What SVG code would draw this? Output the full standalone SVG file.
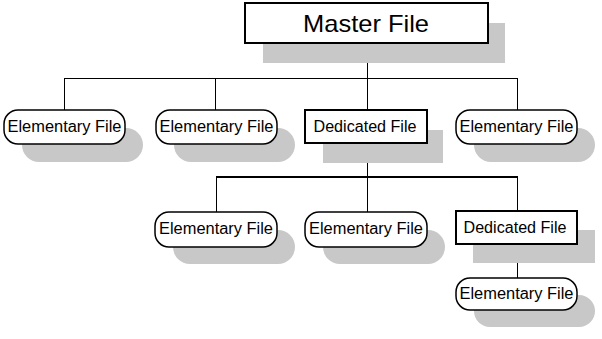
<svg xmlns="http://www.w3.org/2000/svg" width="602" height="339" viewBox="0 0 602 339">
<style>
.shadow{fill:#c8c8c8;stroke:none}
.pill{fill:#fff;stroke:#000;stroke-width:1.5}
.box{fill:#fff;stroke:#000;stroke-width:2}
.lbl{font-family:"Liberation Sans",Arial,sans-serif;font-size:16px;fill:#000;text-anchor:middle}
.big{font-family:"Liberation Sans",Arial,sans-serif;font-size:24px;fill:#000;text-anchor:middle}
.ln{stroke:#000;stroke-width:1;fill:none}
.ln2{stroke:#000;stroke-width:2;fill:none}
</style>
<rect width="602" height="339" fill="#fff"/>
<g id="connectors">
<line class="ln" x1="367.5" y1="43" x2="367.5" y2="78"/>
<line class="ln" x1="64" y1="78.5" x2="518" y2="78.5"/>
<line class="ln" x1="64.5" y1="78" x2="64.5" y2="110"/>
<line class="ln" x1="215.5" y1="78" x2="215.5" y2="110"/>
<line class="ln" x1="367.5" y1="78" x2="367.5" y2="110"/>
<line class="ln" x1="517.5" y1="78" x2="517.5" y2="110"/>
<line class="ln" x1="367.5" y1="143" x2="367.5" y2="177"/>
<line class="ln2" x1="216" y1="177" x2="518" y2="177"/>
<line class="ln" x1="216.5" y1="177" x2="216.5" y2="212"/>
<line class="ln" x1="367.5" y1="177" x2="367.5" y2="212"/>
<line class="ln" x1="517.5" y1="177" x2="517.5" y2="211"/>
<line class="ln" x1="517.5" y1="244" x2="517.5" y2="278"/>
</g>
<g id="master">
<rect class="shadow" x="263" y="23" width="242" height="40"/>
<rect class="box" x="245" y="3" width="243" height="40"/>
<text class="big" x="366" y="32" textLength="126" lengthAdjust="spacingAndGlyphs">Master  File</text>
</g>
<g id="ef1">
<rect class="shadow" x="22" y="128" width="121" height="34" rx="17"/>
<rect class="pill" x="4" y="110" width="121" height="34" rx="14"/>
<text class="lbl" x="64.5" y="132" textLength="114" lengthAdjust="spacingAndGlyphs">Elementary  File</text>
</g>
<g id="ef2">
<rect class="shadow" x="174" y="128" width="121" height="34" rx="17"/>
<rect class="pill" x="156" y="110" width="121" height="34" rx="14"/>
<text class="lbl" x="216.5" y="132" textLength="114" lengthAdjust="spacingAndGlyphs">Elementary  File</text>
</g>
<g id="df1">
<rect class="shadow" x="323" y="130" width="120" height="33"/>
<rect class="box" x="305" y="110" width="122" height="33"/>
<text class="lbl" x="365" y="132" textLength="103" lengthAdjust="spacingAndGlyphs">Dedicated  File</text>
</g>
<g id="ef3">
<rect class="shadow" x="474" y="128" width="121" height="34" rx="17"/>
<rect class="pill" x="456" y="110" width="121" height="34" rx="14"/>
<text class="lbl" x="516.5" y="132" textLength="114" lengthAdjust="spacingAndGlyphs">Elementary  File</text>
</g>
<g id="ef4">
<rect class="shadow" x="173" y="230" width="122" height="34" rx="17"/>
<rect class="pill" x="155" y="212" width="122" height="35" rx="14"/>
<text class="lbl" x="216" y="234" textLength="114" lengthAdjust="spacingAndGlyphs">Elementary  File</text>
</g>
<g id="ef5">
<rect class="shadow" x="323" y="230" width="122" height="34" rx="17"/>
<rect class="pill" x="305" y="212" width="122" height="35" rx="14"/>
<text class="lbl" x="366" y="234" textLength="114" lengthAdjust="spacingAndGlyphs">Elementary  File</text>
</g>
<g id="df2">
<rect class="shadow" x="473" y="230" width="122" height="33"/>
<rect class="box" x="456" y="211" width="121" height="33"/>
<text class="lbl" x="515" y="233" textLength="103" lengthAdjust="spacingAndGlyphs">Dedicated  File</text>
</g>
<g id="ef6">
<rect class="shadow" x="474" y="295" width="121" height="32" rx="16"/>
<rect class="pill" x="456" y="278" width="121" height="32" rx="14"/>
<text class="lbl" x="516.5" y="299" textLength="114" lengthAdjust="spacingAndGlyphs">Elementary  File</text>
</g>
</svg>
